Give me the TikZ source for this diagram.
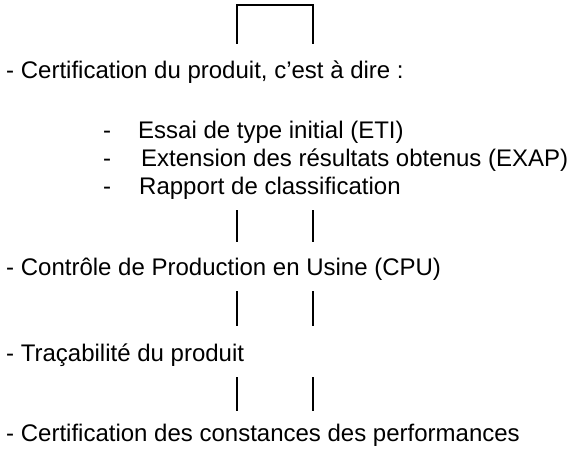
\documentclass[tikz,border=0pt]{standalone}
\usepackage{fontspec}
\setmainfont{Liberation Sans}
\begin{document}
\begin{tikzpicture}[x=1pt,y=-1pt,
  txt/.style={anchor=base west,inner sep=0pt,font=\fontsize{24}{28}\selectfont},
  bar/.style={line width=2pt,line cap=butt}]
\useasboundingbox (0,0) rectangle (568,452);
% top bracket
\coordinate (b1) at (237,44);
\coordinate (b2) at (237,5);
\coordinate (b3) at (313,5);
\coordinate (b4) at (313,44);
\draw[bar,line join=miter] (b1) -- (b2) -- (b3) -- (b4);
% texts
\node[txt] (t1) at (6,78) {- Certification du produit, c’est à dire :};
\node[txt] (d1) at (103,138) {-};
\node[txt] (s1) at (138,138) {Essai de type initial (ETI)};
\node[txt] (d2) at (103,166) {-};
\node[txt] (s2) at (141,166) {Extension des résultats obtenus (EXAP)};
\node[txt] (d3) at (103,194) {-};
\node[txt] (s3) at (139,194) {Rapport de classification};
\node[txt] (t2) at (6,275) {- Contrôle de Production en Usine (CPU)};
\node[txt] (t3) at (6,361) {- Traçabilité du produit};
\node[txt] (t4) at (6,441) {- Certification des constances des performances};
% vertical pairs
\coordinate (p1a) at (237,210); \coordinate (p1b) at (237,242);
\coordinate (p1c) at (313,210); \coordinate (p1d) at (313,242);
\coordinate (p2a) at (237,291); \coordinate (p2b) at (237,326);
\coordinate (p2c) at (313,291); \coordinate (p2d) at (313,326);
\coordinate (p3a) at (237,377); \coordinate (p3b) at (237,411);
\coordinate (p3c) at (313,377); \coordinate (p3d) at (313,411);
\draw[bar] (p1a) -- (p1b) (p1c) -- (p1d);
\draw[bar] (p2a) -- (p2b) (p2c) -- (p2d);
\draw[bar] (p3a) -- (p3b) (p3c) -- (p3d);
\end{tikzpicture}
\end{document}
